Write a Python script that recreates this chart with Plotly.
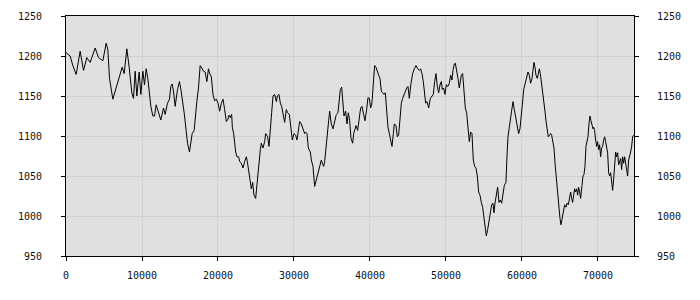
import plotly.graph_objects as go

x_vals = [22, 548, 899, 1338, 1864, 2303, 2741, 3180, 3838, 4276, 4847, 5285, 5505, 5724, 6162, 6689,
          7127, 7390, 7653, 8004, 8311, 8662, 8882, 9101, 9320, 9627, 9846, 10110, 10329, 10548, 10767,
          11162, 11425, 11645, 11864, 12171, 12478, 12829, 13048, 13355, 13618, 13794, 13969, 14145,
          14364, 14671, 14934, 15154, 15373, 15548, 15680, 15987, 16250, 16426, 16601, 16864, 17040,
          17215, 17434, 17654, 17873, 18092, 18312, 18531, 18750,
          18904, 19123, 19342, 19561, 19781, 20000, 20219, 20439, 20658, 20877, 21097, 21316, 21447,
          21623, 21798, 21886, 22061, 22325, 22500, 22719, 22851, 23070, 23290, 23509, 23728, 23860,
          23991, 24167, 24386, 24561, 24737, 24956, 25132, 25263, 25395, 25570, 25702, 25921, 26140,
          26272, 26404, 26535, 26711, 26886, 27061, 27237, 27456, 27676, 27807, 28026, 28202, 28377,
          28553, 28772, 28991, 29167, 29386, 29561, 29781, 30000, 30219, 30395, 30570, 30746, 30965,
          31184, 31404, 31535, 31711, 31886, 32149, 32281, 32500, 32719, 32939, 33158, 33377, 33597,
          33728, 33904, 34035, 34167, 34342, 34561, 34693, 34912, 35132, 35395, 35570, 35789, 35921,
          36097, 36272, 36447, 36579, 36798, 36974, 37149,
          37325, 37500, 37719, 37851, 37982, 38158, 38377, 38596, 38772, 38947, 39123, 39342, 39561,
          39737, 39912, 40088, 40219, 40307, 40482, 40614, 40789, 40965, 41140, 41316, 41491, 41667,
          41842, 42018, 42193, 42368, 42544, 42719, 42895, 43070, 43202, 43421, 43596, 43772, 43947,
          44123, 44298, 44474, 44649, 44825, 45000, 45175, 45395, 45614, 45833, 46053, 46272, 46491,
          46667, 46842, 47018, 47193, 47325, 47500, 47719, 47939, 48114, 48333, 48509, 48684, 48860,
          49035, 49211, 49386, 49518, 49693, 49868, 50044, 50263, 50439, 50614, 50789, 50921, 51096,
          51228, 51404, 51579, 51754, 51886, 52018, 52193, 52368, 52544, 52719, 52895, 53070, 53246,
          53421, 53596, 53772, 53947, 54123, 54298, 54474, 54649, 54825, 54956, 55132, 55307, 55482,
          55658, 55833, 56009, 56184, 56316,
          56447, 56623, 56798, 56974, 57149, 57325, 57500, 57675, 57763, 57895, 58026, 58158, 58333,
          58509, 58640, 58816, 58991, 59167, 59298, 59430, 59561, 59737, 59868, 60044, 60219, 60395,
          60526, 60658, 60789, 60965, 61140, 61316, 61447, 61579, 61711, 61842, 62018, 62149, 62281,
          62412, 62588, 62763, 62895, 63026, 63158, 63333, 63465, 63640, 63772, 63904, 64035, 64211,
          64386, 64561, 64737, 64868, 65000, 65132, 65307, 65482, 65614, 65789, 65921, 66096, 66272,
          66404, 66535, 66667, 66798, 66930, 67061, 67193, 67325, 67456, 67588, 67719, 67895, 68026,
          68158, 68289, 68421, 68553, 68684, 68816, 68947, 69079, 69211, 69342, 69430, 69561, 69693,
          69825, 69956, 70088, 70219, 70351, 70482, 70614, 70746, 70877, 71009, 71140, 71272, 71404,
          71535, 71667, 71798, 71930, 72061, 72193, 72325, 72456, 72588, 72719, 72851, 72982, 73114,
          73246, 73377, 73509, 73640, 73772, 73904, 74035, 74167, 74298, 74430, 74562, 74700]

y_vals = [1204, 1200, 1188, 1177, 1206, 1182, 1198, 1192, 1210, 1198, 1194, 1216, 1208, 1172, 1146, 1164,
          1176, 1186, 1178, 1209, 1186, 1154, 1147, 1181, 1150, 1180, 1152, 1181, 1164, 1184, 1172,
          1137, 1125, 1125, 1139, 1129, 1120, 1135, 1127, 1141, 1146, 1162, 1165, 1156, 1137, 1158,
          1168, 1156, 1143, 1129, 1118, 1091, 1080, 1095, 1103, 1107, 1127, 1143, 1160, 1188, 1185,
          1181, 1180, 1168, 1184, 1178, 1174,
          1152, 1144, 1146, 1141, 1131, 1141, 1146, 1133, 1118, 1121, 1126, 1123, 1127,
          1111, 1103, 1080, 1074, 1074, 1068, 1066, 1060, 1068, 1074, 1068, 1058, 1046,
          1034, 1042, 1026, 1022, 1042, 1052, 1068, 1083, 1091, 1085, 1093, 1103, 1101,
          1099, 1087, 1115, 1129, 1150, 1152, 1143, 1150, 1152, 1141, 1137, 1127, 1117,
          1133, 1129, 1127, 1115, 1095, 1103, 1101, 1095, 1107, 1118, 1115, 1109, 1103,
          1105, 1103, 1085, 1080, 1070, 1062, 1037, 1046, 1056, 1064, 1070, 1066, 1062,
          1068, 1083, 1105, 1119, 1131, 1115, 1109, 1123, 1127, 1129, 1143, 1158, 1161,
          1139, 1125, 1131, 1115, 1129, 1119, 1097,
          1091, 1103, 1109, 1113, 1107, 1121, 1135, 1137, 1127, 1119, 1133, 1148, 1147,
          1135, 1139, 1147, 1172, 1188, 1186, 1180, 1176, 1172, 1156, 1154, 1152, 1154,
          1127, 1111, 1103, 1093, 1087, 1103, 1115, 1113, 1099, 1101, 1123, 1141, 1147,
          1152, 1156, 1160, 1162, 1147, 1166, 1178, 1184, 1188, 1184, 1182, 1184, 1178,
          1168, 1146, 1141, 1143, 1135, 1147, 1150, 1152, 1168, 1178, 1162, 1154, 1164,
          1168, 1158, 1160, 1152, 1164, 1162, 1166, 1176, 1170, 1182, 1190, 1191, 1178,
          1172, 1160, 1168, 1176, 1178, 1150, 1135, 1129, 1111, 1093, 1105, 1103, 1070,
          1062, 1060, 1050, 1030, 1026, 1017, 1011, 1001, 989, 975, 983, 993, 1000,
          1014, 1016, 1004, 1016, 1028,
          1036, 1017, 1020, 1016, 1030, 1038, 1040, 1042, 1074, 1099, 1111, 1125, 1129,
          1143, 1133, 1123, 1115, 1109, 1103, 1109, 1127, 1139, 1158, 1166, 1168, 1174,
          1180, 1176, 1166, 1172, 1188, 1192, 1186, 1176, 1172, 1180, 1184, 1178, 1166,
          1152, 1143, 1131, 1119, 1107, 1099, 1101, 1103, 1101, 1095, 1085, 1062, 1040,
          1024, 1009, 997, 989, 997, 1005, 1014, 1011, 1016, 1014, 1022, 1030, 1022,
          1017, 1026, 1034, 1030, 1034, 1026, 1036, 1030, 1022, 1038, 1050, 1052, 1062,
          1087, 1095, 1099, 1115, 1125, 1119, 1111, 1109, 1111, 1107, 1095, 1087, 1093,
          1083, 1089, 1074, 1085, 1087, 1095, 1099, 1093, 1087, 1079, 1054, 1050, 1054,
          1038, 1032, 1046, 1062, 1080, 1074, 1079, 1064, 1070, 1072, 1058, 1074, 1066,
          1074, 1066, 1060, 1050, 1070, 1074, 1080, 1087, 1099, 1101, 1099, 1100]

x_ticks = [0, 10000, 20000, 30000, 40000, 50000, 60000, 70000]
y_ticks = [950, 1000, 1050, 1100, 1150, 1200, 1250]

font = dict(family="DejaVu Sans Mono", size=10, color="#111111")

fig = go.Figure()
fig.add_trace(go.Scatter(x=x_vals, y=y_vals, mode="lines",
                         line=dict(color="black", width=1), showlegend=False,
                         hoverinfo="skip"))
fig.add_trace(go.Scatter(x=x_vals, y=y_vals, mode="lines", yaxis="y2",
                         line=dict(color="rgba(0,0,0,0)", width=0), showlegend=False,
                         hoverinfo="skip"))

fig.update_layout(
    width=700, height=300,
    margin=dict(l=66, r=66, t=10, b=44),
    paper_bgcolor="white",
    plot_bgcolor="#e0e0e0",
    font=font,
    xaxis=dict(range=[0, 74740], tickvals=x_ticks, ticktext=[str(v) for v in x_ticks],
               showgrid=True, gridcolor="#d0d0d0", gridwidth=1, zeroline=False,
               showline=True, linecolor="black", linewidth=1, mirror=True,
               ticks="outside", ticklen=4, tickcolor="black", ticklabelstandoff=6,
               tickfont=font),
    yaxis=dict(range=[950, 1250], tickvals=y_ticks, ticktext=[str(v) for v in y_ticks],
               showgrid=True, gridcolor="#d0d0d0", gridwidth=1, zeroline=False,
               showline=True, linecolor="black", linewidth=1,
               ticks="outside", ticklen=4, tickcolor="black", ticklabelstandoff=17,
               tickfont=font),
    yaxis2=dict(range=[950, 1250], tickvals=y_ticks, ticktext=[str(v) for v in y_ticks],
                overlaying="y", side="right", showgrid=False, zeroline=False,
                showline=True, linecolor="black", linewidth=1,
                ticks="outside", ticklen=4, tickcolor="black", ticklabelstandoff=16,
                tickfont=font),
)

fig.write_html("out.html")
